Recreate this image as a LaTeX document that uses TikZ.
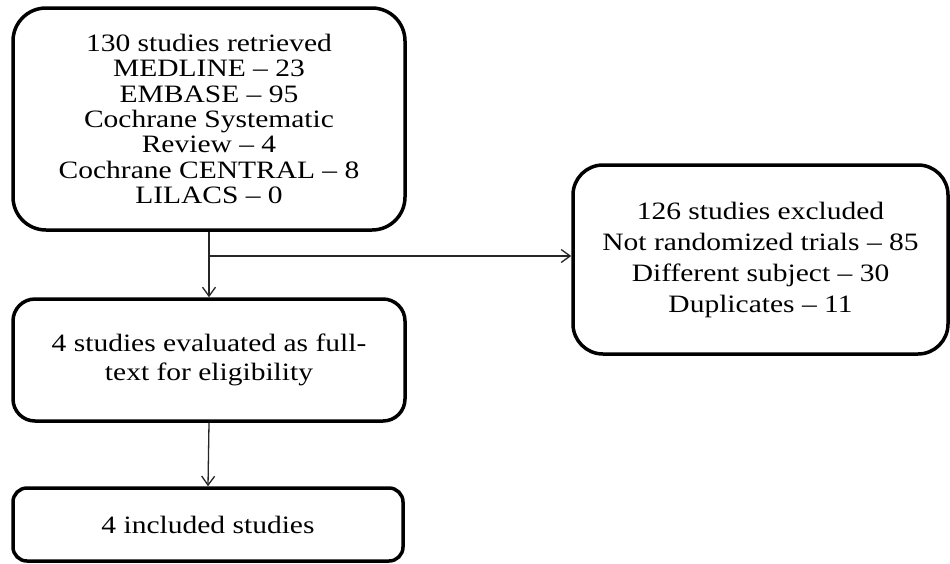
\documentclass[tikz,border=0pt]{standalone}
\usepackage{fontspec}
\setmainfont[FakeStretch=1.18]{Liberation Serif}
\usetikzlibrary{arrows.meta}
\begin{document}
\begin{tikzpicture}[x=1pt,y=-1pt,
  box/.style={draw=black, line width=3.5pt, align=center, inner sep=0pt, text=black},
  conn/.style={draw=black!85, line width=1.3pt, -{Straight Barb[length=9pt,width=13pt,line width=1.3pt]}},
  plain/.style={draw=black!85, line width=1.3pt}]
\useasboundingbox (0,0) rectangle (950,563);
\fill[white] (0,0) rectangle (950,563);

\node[box, rounded corners=33pt, minimum width=392pt, minimum height=222pt,
      font=\fontsize{25}{25.3}\selectfont] (b1) at (209,119)
  {130 studies retrieved\\MEDLINE -- 23\\EMBASE -- 95\\Cochrane Systematic\\Review -- 4\\Cochrane CENTRAL -- 8\\LILACS -- 0};

\node[box, rounded corners=30pt, minimum width=375pt, minimum height=189pt,
      font=\fontsize{25}{31}\selectfont] (b2) at (760.5,259.5)
  {126 studies excluded\\Not randomized trials -- 85\\Different subject -- 30\\Duplicates -- 11};

\node[box, rounded corners=22pt, minimum width=392pt, minimum height=122pt,
      font=\fontsize{25}{29}\selectfont] (b3) at (209,360)
  {4 studies evaluated as full-\\text for eligibility};

\node[box, rounded corners=14pt, minimum width=390pt, minimum height=73pt,
      font=\fontsize{25}{29}\selectfont] (b4) at (208,524.5)
  {4 included studies};

\coordinate (br) at (209,256);
\draw[conn] (b1.south) -- (b3.north);
\draw[conn] (br) -- (br -| b2.west);
\draw[conn] (b3.south) -- (b4.north);
\end{tikzpicture}
\end{document}
